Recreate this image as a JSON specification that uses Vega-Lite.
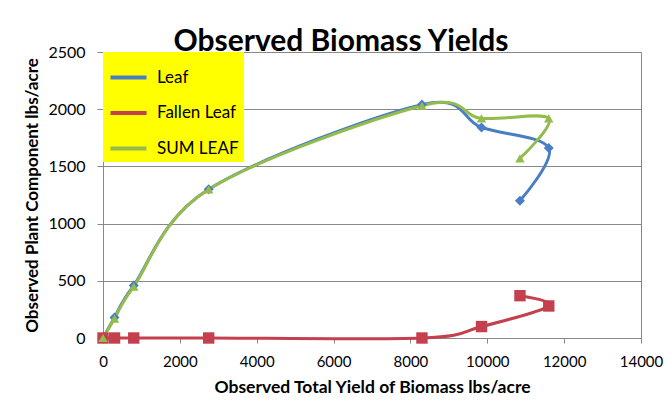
{
  "$schema": "https://vega.github.io/schema/vega-lite/v6.json",
  "width": 538,
  "height": 286,
  "autosize": {"type": "none"},
  "padding": {"left": 103, "top": 52, "right": 23, "bottom": 64},
  "background": "white",
  "title": {
    "text": "Observed Biomass Yields",
    "font": "Lato",
    "fontSize": 30,
    "fontWeight": "bold",
    "color": "#000000",
    "anchor": "middle",
    "dx": -31,
    "offset": -13
  },
  "config": {
    "view": {"stroke": "#888888", "strokeWidth": 1},
    "axis": {
      "labelFont": "Lato",
      "titleFont": "Lato",
      "labelColor": "#000000",
      "titleColor": "#000000",
      "domainColor": "#888888",
      "tickColor": "#888888",
      "labelFlush": false
    }
  },
  "data": {
    "values": [
      {"series": "Leaf", "i": 1, "total": 0, "value": 0},
      {"series": "Leaf", "i": 2, "total": 300, "value": 180},
      {"series": "Leaf", "i": 3, "total": 800, "value": 460},
      {"series": "Leaf", "i": 4, "total": 2750, "value": 1300},
      {"series": "Leaf", "i": 5, "total": 8300, "value": 2040},
      {"series": "Leaf", "i": 6, "total": 9850, "value": 1840},
      {"series": "Leaf", "i": 7, "total": 11600, "value": 1660},
      {"series": "Leaf", "i": 8, "total": 10850, "value": 1200},
      {"series": "Fallen Leaf", "i": 1, "total": 0, "value": 0},
      {"series": "Fallen Leaf", "i": 2, "total": 300, "value": 0},
      {"series": "Fallen Leaf", "i": 3, "total": 800, "value": 0},
      {"series": "Fallen Leaf", "i": 4, "total": 2750, "value": 0},
      {"series": "Fallen Leaf", "i": 5, "total": 8300, "value": 0},
      {"series": "Fallen Leaf", "i": 6, "total": 9850, "value": 100},
      {"series": "Fallen Leaf", "i": 7, "total": 11600, "value": 280},
      {"series": "Fallen Leaf", "i": 8, "total": 10850, "value": 370},
      {"series": "SUM LEAF", "i": 1, "total": 0, "value": 0},
      {"series": "SUM LEAF", "i": 2, "total": 300, "value": 170},
      {"series": "SUM LEAF", "i": 3, "total": 800, "value": 450},
      {"series": "SUM LEAF", "i": 4, "total": 2750, "value": 1300},
      {"series": "SUM LEAF", "i": 5, "total": 8300, "value": 2030},
      {"series": "SUM LEAF", "i": 6, "total": 9850, "value": 1920},
      {"series": "SUM LEAF", "i": 7, "total": 11600, "value": 1920},
      {"series": "SUM LEAF", "i": 8, "total": 10850, "value": 1570}
    ]
  },
  "encoding": {
    "x": {
      "field": "total",
      "type": "quantitative",
      "scale": {"domain": [0, 14000], "nice": false},
      "axis": {
        "values": [0, 2000, 4000, 6000, 8000, 10000, 12000, 14000],
        "format": "d",
        "grid": false,
        "labelFontSize": 15,
        "labelPadding": 11,
        "tickSize": 5,
        "title": "Observed Total Yield of Biomass  lbs/acre",
        "titleFontSize": 17.5,
        "titleFontWeight": "bold",
        "titlePadding": 9
      }
    },
    "y": {
      "field": "value",
      "type": "quantitative",
      "scale": {"domain": [0, 2500], "nice": false},
      "axis": {
        "values": [0, 500, 1000, 1500, 2000, 2500],
        "format": "d",
        "grid": true,
        "gridColor": "#888888",
        "labelFontSize": 16,
        "labelPadding": 12,
        "tickSize": 6,
        "title": "Observed  Plant Component lbs/acre",
        "titleFontSize": 17,
        "titleFontWeight": "bold",
        "titlePadding": 6
      }
    },
    "color": {
      "field": "series",
      "type": "nominal",
      "scale": {
        "domain": ["Leaf", "Fallen Leaf", "SUM LEAF"],
        "range": ["#4a7ec4", "#c4404e", "#94bc4c"]
      },
      "legend": {
        "title": null,
        "orient": "none",
        "legendX": 0,
        "legendY": 0,
        "fillColor": "#ffff00",
        "padding": 5,
        "symbolType": "stroke",
        "symbolStrokeWidth": 4,
        "symbolSize": 1300,
        "labelFont": "Lato",
        "labelFontSize": 17,
        "labelColor": "#000000",
        "rowPadding": 6.5,
        "labelOffset": 8
      }
    },
    "order": {"field": "i", "type": "quantitative"}
  },
  "layer": [
    {
      "mark": {"type": "line", "strokeWidth": 3, "interpolate": "cardinal", "tension": 0}
    },
    {
      "transform": [{"filter": "datum.series === 'Leaf'"}],
      "mark": {"type": "point", "shape": "diamond", "filled": true, "opacity": 1, "size": 100}
    },
    {
      "transform": [{"filter": "datum.series === 'Fallen Leaf'"}],
      "mark": {"type": "point", "shape": "square", "filled": true, "opacity": 1, "size": 130}
    },
    {
      "transform": [{"filter": "datum.series === 'SUM LEAF'"}],
      "mark": {"type": "point", "shape": "triangle-up", "filled": true, "opacity": 1, "size": 90}
    }
  ]
}
